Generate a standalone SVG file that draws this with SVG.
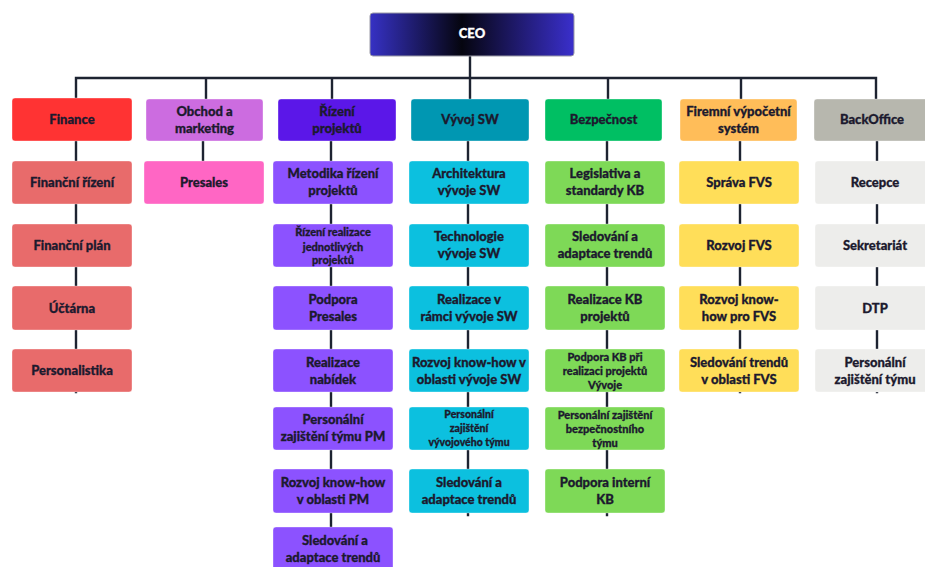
<svg xmlns="http://www.w3.org/2000/svg" width="925" height="567" viewBox="0 0 925 567">
  <defs>
    <linearGradient id="ceoFill" x1="0" y1="0" x2="1" y2="0">
      <stop offset="0" stop-color="#3631c4"/>
      <stop offset="0.45" stop-color="#05050f"/>
      <stop offset="1" stop-color="#3a2fcc"/>
    </linearGradient>
    <style>
      .box { stroke: #ffffff; stroke-opacity: 0.35; stroke-width: 1; }
      .link { fill: none; stroke: #1d2331; stroke-width: 2.4; stroke-linecap: square; }
      text { font-family: "Lato", "Noto Sans", sans-serif; font-weight: 900; fill: #1c1a2e; stroke: #1c1a2e; stroke-width: 0.3; text-anchor: middle; dominant-baseline: central; font-size: 13px; }
      .sm { font-size: 11px; }
      .xs { font-size: 10.5px; }
      .ceo { fill: #ffffff; stroke: #ffffff; font-size: 13px; }
      .fin-h { fill: #ff3333; } .fin { fill: #e86b6b; }
      .obc-h { fill: #cc6ce0; } .obc { fill: #ff66c4; }
      .riz-h { fill: #5b17e8; } .riz { fill: #8c52ff; }
      .vyv-h { fill: #0097b2; } .vyv { fill: #0cc0df; }
      .bez-h { fill: #00bf63; } .bez { fill: #7ed957; }
      .fvs-h { fill: #ffbd59; } .fvs { fill: #ffde59; }
      .bo-h { fill: #b7b7ae; } .bo { fill: #ededeb; }
    </style>
  </defs>
  <rect width="925" height="567" fill="#ffffff"/>

  <!-- connectors -->
  <g id="connectors">
    <path class="link" d="M470 56 V98 M76 78 H876 M76 78 V98 M206 78 V98 M332 78 V98 M608 78 V98 M741 78 V98 M876 78 V98"/>
    <path class="link" d="M76 141 V392 M203 141 V161 M331 141 V548 M468 141 V515 M607 141 V515 M740 141 V392 M877 141 V392"/>
  </g>

  <!-- CEO -->
  <g id="ceo">
    <rect x="370" y="13" width="204" height="43" rx="3" fill="url(#ceoFill)" stroke="#9a9aa6" stroke-width="1"/>
    <text class="ceo" x="472" y="32.5">CEO</text>
  </g>

  <!-- Finance -->
  <g id="finance">
    <rect class="box fin-h" x="12" y="98" width="120" height="43" rx="3"/>
    <text x="72" y="119">Finance</text>
  </g>
  <g id="financni-rizeni">
    <rect class="box fin" x="12" y="161" width="120" height="43" rx="3"/>
    <text x="72" y="182">Finanční řízení</text>
  </g>
  <g id="financni-plan">
    <rect class="box fin" x="12" y="224" width="120" height="43" rx="3"/>
    <text x="72" y="245">Finanční plán</text>
  </g>
  <g id="uctarna">
    <rect class="box fin" x="12" y="286" width="120" height="44" rx="3"/>
    <text x="72" y="307.5">Účtárna</text>
  </g>
  <g id="personalistika">
    <rect class="box fin" x="12" y="349" width="120" height="43" rx="3"/>
    <text x="72" y="370">Personalistika</text>
  </g>

  <!-- Obchod a marketing -->
  <g id="obchod">
    <rect class="box obc-h" x="146" y="99" width="117" height="42" rx="3"/>
    <text x="204.5" y="110.5">Obchod a</text>
    <text x="204.5" y="127.5">marketing</text>
  </g>
  <g id="presales">
    <rect class="box obc" x="144" y="161" width="120" height="43" rx="3"/>
    <text x="204" y="182">Presales</text>
  </g>

  <!-- Řízení projektů -->
  <g id="rizeni">
    <rect class="box riz-h" x="278" y="99" width="118" height="42" rx="3"/>
    <text x="337" y="110.5">Řízení</text>
    <text x="337" y="127.5">projektů</text>
  </g>
  <g id="metodika">
    <rect class="box riz" x="273" y="161" width="120" height="43" rx="3"/>
    <text x="333" y="173">Metodika řízení</text>
    <text x="333" y="190">projektů</text>
  </g>
  <g id="rizeni-realizace">
    <rect class="box riz" x="273" y="224" width="120" height="43" rx="3"/>
    <text class="sm" x="333" y="231.5">Řízení realizace</text>
    <text class="sm" x="333" y="246">jednotlivých</text>
    <text class="sm" x="333" y="259.5">projektů</text>
  </g>
  <g id="podpora-presales">
    <rect class="box riz" x="273" y="286" width="120" height="44" rx="3"/>
    <text x="333" y="298.5">Podpora</text>
    <text x="333" y="315.5">Presales</text>
  </g>
  <g id="realizace-nabidek">
    <rect class="box riz" x="273" y="349" width="120" height="43" rx="3"/>
    <text x="333" y="361.5">Realizace</text>
    <text x="333" y="378.5">nabídek</text>
  </g>
  <g id="personalni-pm">
    <rect class="box riz" x="273" y="407" width="120" height="43" rx="3"/>
    <text x="333" y="419">Personální</text>
    <text x="333" y="436">zajištění týmu PM</text>
  </g>
  <g id="knowhow-pm">
    <rect class="box riz" x="273" y="469" width="120" height="44" rx="3"/>
    <text x="333" y="481.5">Rozvoj know-how</text>
    <text x="333" y="498.5">v oblasti PM</text>
  </g>
  <g id="trendy-pm">
    <rect class="box riz" x="273" y="527" width="120" height="44" rx="3"/>
    <text x="335" y="539.5">Sledování a</text>
    <text x="333" y="556.5">adaptace trendů</text>
  </g>

  <!-- Vývoj SW -->
  <g id="vyvoj">
    <rect class="box vyv-h" x="411" y="99" width="118" height="42" rx="3"/>
    <text x="470" y="119">Vývoj SW</text>
  </g>
  <g id="architektura">
    <rect class="box vyv" x="409" y="161" width="120" height="43" rx="3"/>
    <text x="469" y="173">Architektura</text>
    <text x="469" y="190">vývoje SW</text>
  </g>
  <g id="technologie">
    <rect class="box vyv" x="409" y="224" width="120" height="43" rx="3"/>
    <text x="469" y="236">Technologie</text>
    <text x="469" y="253">vývoje SW</text>
  </g>
  <g id="realizace-sw">
    <rect class="box vyv" x="409" y="286" width="120" height="44" rx="3"/>
    <text x="469" y="298.5">Realizace v</text>
    <text x="469" y="315.5">rámci vývoje SW</text>
  </g>
  <g id="knowhow-sw">
    <rect class="box vyv" x="409" y="349" width="120" height="43" rx="3"/>
    <text x="469" y="361.5">Rozvoj know-how v</text>
    <text x="469" y="378.5">oblasti vývoje SW</text>
  </g>
  <g id="personalni-sw">
    <rect class="box vyv" x="409" y="407" width="120" height="43" rx="3"/>
    <text class="xs" x="469" y="414">Personální</text>
    <text class="xs" x="469" y="428">zajištění</text>
    <text class="xs" x="469" y="442">vývojového týmu</text>
  </g>
  <g id="trendy-sw">
    <rect class="box vyv" x="409" y="469" width="120" height="44" rx="3"/>
    <text x="469" y="481.5">Sledování a</text>
    <text x="469" y="498.5">adaptace trendů</text>
  </g>

  <!-- Bezpečnost -->
  <g id="bezpecnost">
    <rect class="box bez-h" x="545" y="99" width="117" height="42" rx="3"/>
    <text x="603.5" y="119">Bezpečnost</text>
  </g>
  <g id="legislativa">
    <rect class="box bez" x="545" y="161" width="120" height="43" rx="3"/>
    <text x="605" y="173">Legislativa a</text>
    <text x="605" y="190">standardy KB</text>
  </g>
  <g id="trendy-kb">
    <rect class="box bez" x="545" y="224" width="120" height="43" rx="3"/>
    <text x="605" y="236">Sledování a</text>
    <text x="605" y="253">adaptace trendů</text>
  </g>
  <g id="realizace-kb">
    <rect class="box bez" x="545" y="286" width="120" height="44" rx="3"/>
    <text x="605" y="298.5">Realizace KB</text>
    <text x="605" y="315.5">projektů</text>
  </g>
  <g id="podpora-kb">
    <rect class="box bez" x="545" y="349" width="120" height="43" rx="3"/>
    <text class="sm" x="605" y="356">Podpora KB při</text>
    <text class="sm" x="605" y="370">realizaci projektů</text>
    <text class="sm" x="605" y="384">Vývoje</text>
  </g>
  <g id="personalni-kb">
    <rect class="box bez" x="545" y="407" width="120" height="43" rx="3"/>
    <text class="sm" x="605" y="414">Personální zajištění</text>
    <text class="sm" x="605" y="428">bezpečnostního</text>
    <text class="sm" x="605" y="442">týmu</text>
  </g>
  <g id="interni-kb">
    <rect class="box bez" x="545" y="469" width="120" height="44" rx="3"/>
    <text x="605" y="481.5">Podpora interní</text>
    <text x="605" y="498.5">KB</text>
  </g>

  <!-- Firemní výpočetní systém -->
  <g id="fvs">
    <rect class="box fvs-h" x="680" y="99" width="117" height="42" rx="3"/>
    <text x="738.5" y="110.5">Firemní výpočetní</text>
    <text x="738.5" y="127.5">systém</text>
  </g>
  <g id="sprava-fvs">
    <rect class="box fvs" x="679" y="161" width="120" height="43" rx="3"/>
    <text x="739" y="182">Správa FVS</text>
  </g>
  <g id="rozvoj-fvs">
    <rect class="box fvs" x="679" y="224" width="120" height="43" rx="3"/>
    <text x="739" y="245">Rozvoj FVS</text>
  </g>
  <g id="knowhow-fvs">
    <rect class="box fvs" x="679" y="286" width="120" height="44" rx="3"/>
    <text x="739" y="298.5">Rozvoj know-</text>
    <text x="739" y="315.5">how pro FVS</text>
  </g>
  <g id="trendy-fvs">
    <rect class="box fvs" x="679" y="349" width="120" height="43" rx="3"/>
    <text x="739" y="361.5">Sledování trendů</text>
    <text x="739" y="378.5">v oblasti FVS</text>
  </g>

  <!-- BackOffice -->
  <g id="backoffice">
    <rect class="box bo-h" x="814" y="99" width="117" height="42" rx="3"/>
    <text x="872" y="119">BackOffice</text>
  </g>
  <g id="recepce">
    <rect class="box bo" x="815" y="161" width="120" height="43" rx="3"/>
    <text x="875" y="182">Recepce</text>
  </g>
  <g id="sekretariat">
    <rect class="box bo" x="815" y="224" width="120" height="43" rx="3"/>
    <text x="875" y="245">Sekretariát</text>
  </g>
  <g id="dtp">
    <rect class="box bo" x="815" y="286" width="120" height="44" rx="3"/>
    <text x="875" y="307.5">DTP</text>
  </g>
  <g id="personalni-bo">
    <rect class="box bo" x="815" y="349" width="120" height="43" rx="3"/>
    <text x="875" y="361.5">Personální</text>
    <text x="875" y="378.5">zajištění týmu</text>
  </g>
</svg>
